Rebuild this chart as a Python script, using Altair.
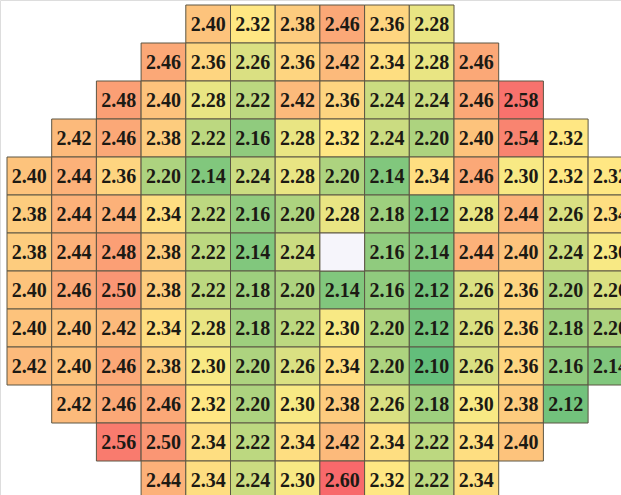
import altair as alt
import pandas as pd

# Wafer-map style grid: each row lists its first column index and its cell values.
row_start = [4, 3, 2, 1, 0, 0, 0, 0, 0, 0, 1, 2, 3]
row_values = [
    [2.40, 2.32, 2.38, 2.46, 2.36, 2.28],
    [2.46, 2.36, 2.26, 2.36, 2.42, 2.34, 2.28, 2.46],
    [2.48, 2.40, 2.28, 2.22, 2.42, 2.36, 2.24, 2.24, 2.46, 2.58],
    [2.42, 2.46, 2.38, 2.22, 2.16, 2.28, 2.32, 2.24, 2.20, 2.40, 2.54, 2.32],
    [2.40, 2.44, 2.36, 2.20, 2.14, 2.24, 2.28, 2.20, 2.14, 2.34, 2.46, 2.30, 2.32, 2.32],
    [2.38, 2.44, 2.44, 2.34, 2.22, 2.16, 2.20, 2.28, 2.18, 2.12, 2.28, 2.44, 2.26, 2.34],
    [2.38, 2.44, 2.48, 2.38, 2.22, 2.14, 2.24, None, 2.16, 2.14, 2.44, 2.40, 2.24, 2.30],
    [2.40, 2.46, 2.50, 2.38, 2.22, 2.18, 2.20, 2.14, 2.16, 2.12, 2.26, 2.36, 2.20, 2.26],
    [2.40, 2.40, 2.42, 2.34, 2.28, 2.18, 2.22, 2.30, 2.20, 2.12, 2.26, 2.36, 2.18, 2.20],
    [2.42, 2.40, 2.46, 2.38, 2.30, 2.20, 2.26, 2.34, 2.20, 2.10, 2.26, 2.36, 2.16, 2.14],
    [2.42, 2.46, 2.46, 2.32, 2.20, 2.30, 2.38, 2.26, 2.18, 2.30, 2.38, 2.12],
    [2.56, 2.50, 2.34, 2.22, 2.34, 2.42, 2.34, 2.22, 2.34, 2.40],
    [2.44, 2.34, 2.24, 2.30, 2.60, 2.32, 2.22, 2.34],
]

# Three-colour scale: green (low) -> yellow (middle) -> red (high)
color_stops = [2.10, 2.31, 2.60]
color_range = ["#63BE7B", "#FFEB84", "#F8696B"]

records = []
for r, (start, vals) in enumerate(zip(row_start, row_values)):
    for i, v in enumerate(vals):
        c = start + i
        records.append({
            "col": c, "col2": c + 1, "cx": c + 0.5,
            "row": r, "row2": r + 1, "cy": r + 0.5,
            "value": v,
            "label": "" if v is None else f"{v:.2f}",
        })
df = pd.DataFrame(records)

W, H = 621, 495
cell_w, cell_h = 44.7, 38.0
x0, y0 = 7, 5
x_dom = [-x0 / cell_w, (W - x0) / cell_w]
y_dom = [-y0 / cell_h, (H - y0) / cell_h]

xs = alt.Scale(domain=x_dom, nice=False, zero=False)
ys = alt.Scale(domain=y_dom, nice=False, zero=False, reverse=True)

base = alt.Chart(df)

cells = base.transform_filter("datum.value != null").mark_rect(
    stroke="#5c5644", strokeWidth=1, clip=True
).encode(
    x=alt.X("col:Q", scale=xs, axis=None),
    x2="col2:Q",
    y=alt.Y("row:Q", scale=ys, axis=None),
    y2="row2:Q",
    color=alt.Color(
        "value:Q",
        scale=alt.Scale(domain=color_stops, range=color_range, interpolate="rgb"),
        legend=None,
    ),
)

blank = base.transform_filter("datum.value == null").mark_rect(
    stroke="#5c5644", strokeWidth=1, fill="#f6f5fb", clip=True
).encode(
    x=alt.X("col:Q", scale=xs, axis=None),
    x2="col2:Q",
    y=alt.Y("row:Q", scale=ys, axis=None),
    y2="row2:Q",
)

labels = base.mark_text(
    font="Liberation Serif", fontWeight="bold", fontSize=20,
    color="#1c1a14", align="center", baseline="middle", dy=1, clip=True
).encode(
    x=alt.X("cx:Q", scale=xs, axis=None),
    y=alt.Y("cy:Q", scale=ys, axis=None),
    text="label:N",
)

chart = (
    alt.layer(cells, blank, labels)
    .properties(width=W, height=H, padding=0, autosize=alt.AutoSizeParams(type="none"))
    .configure_view(stroke=None)
    .configure(background="white")
)

chart.save("out.html", embed_options={"renderer": "svg", "actions": False})
